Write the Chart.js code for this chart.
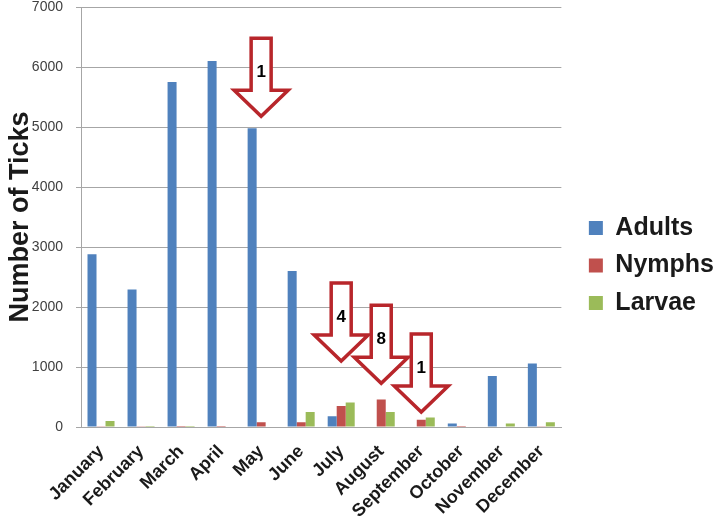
<!DOCTYPE html>
<html>
<head>
<meta charset="utf-8">
<script src="https://cdn.jsdelivr.net/npm/chart.js@4/dist/chart.umd.min.js"></script>
<style>
  html, body { margin: 0; padding: 0; background: #fff; }
  #wrap { width: 716px; height: 524px; }
</style>
</head>
<body>
<div id="wrap"><canvas id="chart" width="716" height="524"></canvas></div>
<script>
// data
const months = ['January', 'February', 'March', 'April', 'May', 'June',
  'July', 'August', 'September', 'October', 'November', 'December'];
const adults = [2880, 2290, 5750, 6100, 4980, 2600, 180, 10, 10, 60, 850, 1060];
const nymphs = [5, 5, 15, 15, 80, 80, 350, 460, 120, 15, 10, 5];
const larvae = [100, 15, 15, 10, 10, 250, 410, 250, 160, 10, 60, 80];
const yTicks = [0, 1000, 2000, 3000, 4000, 5000, 6000, 7000];

// red arrows: which month, where the tip points, and the number inside
const arrowMonths = ['May', 'July', 'August', 'September'];
const arrowTips = [5180, 1100, 730, 250];
const arrowLabels = ['1', '4', '8', '1'];

const font = '"Liberation Sans", Arial, sans-serif';

//////////////// arrows plugin
const arrowPlugin = {
  id: 'arrows',
  afterDatasetsDraw(chart) {
    const ctx = chart.ctx;
    const xs = chart.scales.x;
    const ys = chart.scales.y;
    arrowMonths.forEach((m, i) => {
      const cx = xs.getPixelForValue(months.indexOf(m));
      const tip = ys.getPixelForValue(arrowTips[i]);
      const top = tip - 78;
      const base = tip - 26;
      ctx.save();
      ctx.beginPath();
      ctx.moveTo(cx - 10, top);
      ctx.lineTo(cx + 10, top);
      ctx.lineTo(cx + 10, base);
      ctx.lineTo(cx + 27, base);
      ctx.lineTo(cx, tip);
      ctx.lineTo(cx - 27, base);
      ctx.lineTo(cx - 10, base);
      ctx.closePath();
      ctx.fillStyle = '#ffffff';
      ctx.fill();
      ctx.lineWidth = 3.5;
      ctx.strokeStyle = '#b8262b';
      ctx.stroke();
      ctx.fillStyle = '#000';
      ctx.font = 'bold 17px ' + font;
      ctx.textAlign = 'center';
      ctx.textBaseline = 'middle';
      ctx.fillText(arrowLabels[i], cx, top + 34);
      ctx.restore();
    });
  }
};

// push the legend a bit away from the plot, like the original
const legendShift = {
  id: 'legendShift',
  afterLayout(chart) {
    const lg = chart.legend;
    const dx = chart.chartArea.right + 15 - lg.left;
    lg.left += dx;
    lg.right += dx;
  }
};

new Chart(document.getElementById('chart'), {
  type: 'bar',
  data: {
    labels: months,
    datasets: [
      { label: 'Adults', data: adults, backgroundColor: '#4f81bd' },
      { label: 'Nymphs', data: nymphs, backgroundColor: '#c0504d' },
      { label: 'Larvae', data: larvae, backgroundColor: '#9bbb59' },
    ],
  },
  options: {
    responsive: false,
    animation: false,
    datasets: { bar: { categoryPercentage: 0.675, barPercentage: 1 } },
    layout: { padding: { left: 0, right: 7, top: 7, bottom: 0 } },
    plugins: {
      legend: {
        position: 'right',
        labels: {
          boxWidth: 14,
          boxHeight: 14,
          padding: 12.5,
          color: '#1a1a1a',
          font: { family: font, size: 25, weight: 'bold', lineHeight: 1.2 },
        },
      },
      tooltip: { enabled: false },
    },
    scales: {
      x: {
        grid: { display: false },
        border: { color: '#a6a6a6' },
        afterFit: (axis) => { axis.height = 97; axis.paddingLeft = 0; axis.paddingRight = 0; },
        ticks: {
          minRotation: 45,
          maxRotation: 45,
          autoSkip: false,
          padding: 6,
          color: '#1a1a1a',
          font: { family: font, size: 18, weight: 'bold' },
        },
      },
      y: {
        min: 0,
        max: 7000,
        afterBuildTicks: (axis) => { axis.ticks = yTicks.map(v => ({ value: v })); },
        afterFit: (axis) => { axis.width = 81; axis.paddingTop = 0; axis.paddingBottom = 0; },
        grid: { color: '#a6a6a6', tickLength: 5 },
        border: { color: '#a6a6a6' },
        ticks: {
          color: '#404040',
          padding: 13,
          callback: (v) => String(v),
          font: { family: font, size: 14 },
        },
        title: {
          display: true,
          text: 'Number of Ticks',
          color: '#1a1a1a',
          font: { family: font, size: 27, weight: 'bold' },
          padding: { top: 4, bottom: 0 },
        },
      },
    },
  },
  plugins: [arrowPlugin, legendShift],
});
</script>
</body>
</html>
